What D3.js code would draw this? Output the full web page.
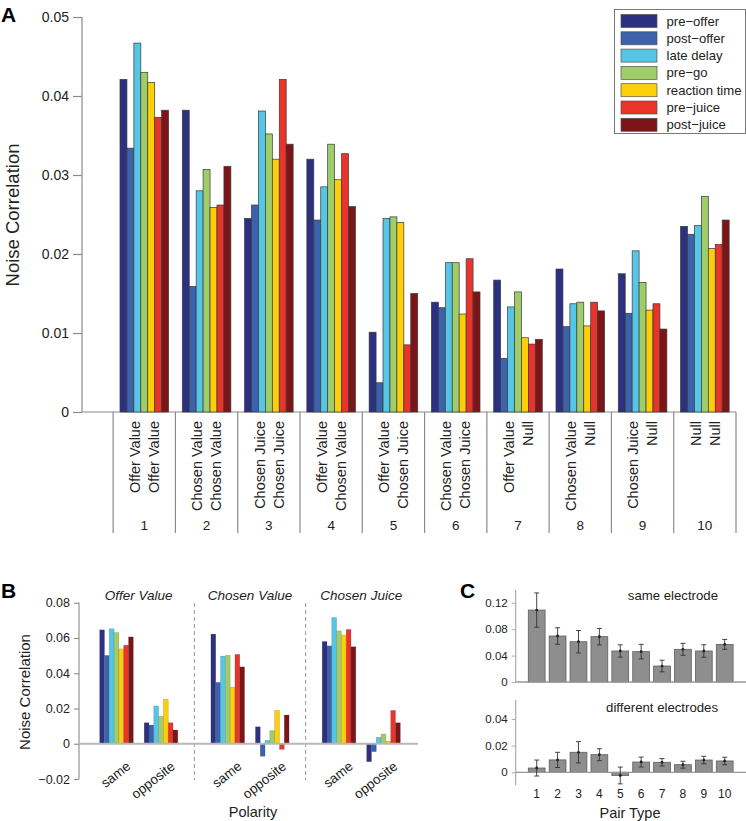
<!DOCTYPE html>
<html><head><meta charset="utf-8">
<script src="https://cdn.jsdelivr.net/npm/d3@7"></script>
<style>body{margin:0;background:#fff}svg{display:block}text{font-family:"Liberation Sans",Arial,Helvetica,sans-serif;fill:#222}</style>
</head><body><svg id="c" width="746" height="821"></svg>
<script>
// ---------- data ----------
const series = ["pre\u2212offer","post\u2212offer","late delay","pre\u2212go","reaction time","pre\u2212juice","post\u2212juice"];
const seriesColors = ["#2b3180","#3b62aa","#55c6e6","#9fcd6a","#fccf0a","#e8342a","#7b1517"];
const pairTypes = [1,2,3,4,5,6,7,8,9,10];
const pairLabel1 = ["Offer Value","Chosen Value","Chosen Juice","Offer Value","Offer Value","Chosen Value","Offer Value","Chosen Value","Chosen Juice","Null"];
const pairLabel2 = ["Offer Value","Chosen Value","Chosen Juice","Chosen Value","Chosen Juice","Chosen Juice","Null","Null","Null","Null"];
// panel A: one row per pair type, values in series order
const noiseA = [
  [0.0421,0.0334,0.0467,0.0430,0.0417,0.0373,0.0382],
  [0.0382,0.0159,0.0280,0.0307,0.0259,0.0262,0.0311],
  [0.0245,0.0262,0.0381,0.0352,0.0320,0.0421,0.0339],
  [0.0320,0.0243,0.0285,0.0339,0.0294,0.0327,0.0260],
  [0.0101,0.0037,0.0245,0.0247,0.0240,0.0085,0.0150],
  [0.0139,0.0132,0.0189,0.0189,0.0124,0.0194,0.0152],
  [0.0167,0.0068,0.0133,0.0152,0.0094,0.0086,0.0092],
  [0.0181,0.0108,0.0137,0.0139,0.0109,0.0139,0.0128],
  [0.0175,0.0125,0.0204,0.0164,0.0129,0.0137,0.0105],
  [0.0235,0.0225,0.0236,0.0273,0.0207,0.0212,0.0243]
];
const ticksA = [0,0.01,0.02,0.03,0.04,0.05];
// panel B
const variablesB = ["Offer Value","Chosen Value","Chosen Juice"];
const polarities = ["same","opposite"];
const noiseBsame = [
  [0.0646,0.0501,0.0652,0.0631,0.0538,0.0559,0.0606],
  [0.0622,0.0348,0.0497,0.0501,0.0320,0.0507,0.0436],
  [0.0580,0.0555,0.0716,0.0640,0.0616,0.0648,0.0550]
];
const noiseBopp = [
  [0.0119,0.0106,0.0214,0.0155,0.0252,0.0119,0.0078],
  [0.0096,-0.0071,0.0019,0.0074,0.0189,-0.0032,0.0163],
  [-0.0102,-0.0045,0.0036,0.0055,0.0015,0.0189,0.0119]
];
const ticksB = [-0.02,0,0.02,0.04,0.06,0.08];
// panel C
const sameElectrode = [0.109,0.0697,0.061,0.0687,0.047,0.046,0.0242,0.0495,0.047,0.057];
const sameElectrodeErr = [0.026,0.0125,0.017,0.0125,0.0093,0.011,0.0088,0.009,0.0095,0.0075];
const diffElectrode = [0.0032,0.0093,0.015,0.0132,-0.0024,0.0077,0.0075,0.0057,0.0092,0.0085];
const diffElectrodeErr = [0.006,0.0057,0.008,0.0045,0.0063,0.0037,0.0028,0.0026,0.0028,0.0028];
const ticksCtop = [0,0.04,0.08,0.12];
const ticksCbot = [0,0.02,0.04];

// ---------- drawing ----------
const svg = d3.select("#c");
const fmt = v => v === 0 ? "0" : d3.format(".2f")(v);
const axisCol = "#8a8a8a";

// ===== Panel A =====
(function(){
  const y = d3.scaleLinear().domain([0,0.05]).range([412,17]);
  const x = d3.scaleLinear().domain([0,10.5]).range([82,736]);
  const inner = d3.scaleBand().domain(d3.range(series.length)).range([-0.39,0.39]);
  const g = svg.append("g");
  g.append("text").attr("x",1).attr("y",22).attr("font-size",21).attr("font-weight","bold").style("fill","#000").text("A");
  // y axis
  const ya = d3.axisLeft(y).tickValues(ticksA).tickFormat(fmt).tickSize(9).tickPadding(4);
  const yg = g.append("g").attr("transform","translate(82,0)").call(ya);
  yg.attr("font-family",null);
  yg.select(".domain").attr("stroke",axisCol).attr("stroke-width",1.2).attr("d","M0,17V412");
  yg.selectAll(".tick line").attr("stroke",axisCol).attr("stroke-width",1.2);
  yg.selectAll(".tick text").attr("font-size",14).attr("fill","#222");
  g.append("text").attr("transform","translate(19,215) rotate(-90)").attr("text-anchor","middle")
    .attr("font-size",18.5).text("Noise Correlation");
  // baseline and separators
  g.append("line").attr("x1",x(0)).attr("x2",x(10.5)).attr("y1",y(0)).attr("y2",y(0)).attr("stroke",axisCol).attr("stroke-width",1.2);
  g.selectAll(".sep").data(d3.range(11)).enter().append("line")
    .attr("x1",d=>x(d+0.5)).attr("x2",d=>x(d+0.5)).attr("y1",y(0)).attr("y2",533)
    .attr("stroke",axisCol).attr("stroke-width",1.2);
  // bars
  pairTypes.forEach((p,pi)=>{
    g.selectAll(null).data(noiseA[pi]).enter().append("rect")
      .attr("x",(d,i)=>x(p+inner(i)))
      .attr("width",x(inner.bandwidth())-x(0))
      .attr("y",d=>y(d)).attr("height",d=>y(0)-y(d))
      .attr("fill",(d,i)=>seriesColors[i]).attr("stroke","#3a3a3a").attr("stroke-width",0.7);
    // labels
    g.append("text").attr("transform",`translate(${x(p)-9.5},421) rotate(-90)`).attr("text-anchor","end")
      .attr("dy","0.36em").attr("font-size",14.5).text(pairLabel1[pi]);
    g.append("text").attr("transform",`translate(${x(p)+9.5},421) rotate(-90)`).attr("text-anchor","end")
      .attr("dy","0.36em").attr("font-size",14.5).text(pairLabel2[pi]);
    g.append("text").attr("x",x(p)).attr("y",530).attr("text-anchor","middle").attr("font-size",13.5).text(p);
  });
  // legend
  const lg = g.append("g");
  lg.append("rect").attr("x",614.5).attr("y",9.5).attr("width",131).attr("height",124).attr("fill","#fff").attr("stroke","#777");
  series.forEach((s,i)=>{
    lg.append("rect").attr("x",621).attr("y",14.5+i*17.3).attr("width",36).attr("height",13)
      .attr("fill",seriesColors[i]).attr("stroke","#555").attr("stroke-width",0.7);
    lg.append("text").attr("x",666.5).attr("y",21+i*17.3).attr("dy","0.35em").attr("font-size",13.1).text(s);
  });
})();

// ===== Panel B =====
(function(){
  const y = d3.scaleLinear().domain([-0.02,0.08]).range([779,602.7]);
  const x = d3.scaleLinear().domain([0,6]).range([116.5,383.5]);
  const inner = d3.scaleBand().domain(d3.range(series.length)).range([-0.378,0.378]);
  const g = svg.append("g");
  g.append("text").attr("x",1).attr("y",598).attr("font-size",21).attr("font-weight","bold").style("fill","#000").text("B");
  const ya = d3.axisLeft(y).tickValues(ticksB).tickFormat(fmt).tickSize(5).tickPadding(4);
  const yg = g.append("g").attr("transform","translate(79,0)").call(ya);
  yg.attr("font-family",null);
  yg.select(".domain").attr("stroke",axisCol).attr("stroke-width",1.1).attr("d","M0,602.7V779");
  yg.selectAll(".tick line").attr("stroke",axisCol).attr("stroke-width",1.1);
  yg.selectAll(".tick text").attr("font-size",12.5).attr("fill","#222");
  g.append("text").attr("transform","translate(30,692) rotate(-90)").attr("text-anchor","middle")
    .attr("font-size",15).text("Noise Correlation");
  // dashed separators
  [1.75,4.25].forEach(p=>{
    g.append("line").attr("x1",x(p)).attr("x2",x(p)).attr("y1",603).attr("y2",780)
      .attr("stroke","#999").attr("stroke-width",1).attr("stroke-dasharray","4,3");
  });
  variablesB.forEach((v,vi)=>{
    const base = vi*2.5;
    g.append("text").attr("x",x(base+0.5)).attr("y",600).attr("text-anchor","middle")
      .attr("font-size",13.5).attr("font-style","italic").text(v);
    [noiseBsame[vi],noiseBopp[vi]].forEach((vals,pi)=>{
      const c = base+pi;
      g.selectAll(null).data(vals).enter().append("rect")
        .attr("x",(d,i)=>x(c+inner(i)))
        .attr("width",x(inner.bandwidth())-x(0))
        .attr("y",d=>y(Math.max(0,d))).attr("height",d=>Math.abs(y(d)-y(0)))
        .attr("fill",(d,i)=>seriesColors[i]).attr("stroke","rgba(60,60,60,0.35)").attr("stroke-width",0.5);
      g.append("text").attr("transform",`translate(${x(c)+15},768) rotate(-38)`).attr("text-anchor","end")
        .attr("font-size",13.5).text(polarities[pi]);
    });
  });
  g.append("line").attr("x1",79).attr("x2",418).attr("y1",y(0)).attr("y2",y(0)).attr("stroke","#b8b8b8").attr("stroke-width",2);
  g.append("text").attr("x",253).attr("y",817).attr("text-anchor","middle").attr("font-size",14.5).text("Polarity");
})();

// ===== Panel C =====
(function(){
  const x = d3.scaleLinear().domain([1,10]).range([536.7,724.7]);
  const bw = 16.8;
  const g = svg.append("g");
  g.append("text").attr("x",460).attr("y",598).attr("font-size",21).attr("font-weight","bold").style("fill","#000").text("C");
  function panel(vals, errs, yScale, ticks, top, label, labelY){
    const ya = d3.axisLeft(yScale).tickValues(ticks).tickFormat(v=>v===0?"0":d3.format(".2f")(v)).tickSize(4).tickPadding(4);
    const yg = g.append("g").attr("transform","translate(515.7,0)").call(ya);
    yg.attr("font-family",null);
    yg.select(".domain").attr("stroke","#aaa").attr("stroke-width",1.2).attr("d",`M0,${top}V${yScale.range()[0]}`);
    yg.selectAll(".tick line").attr("stroke","#aaa");
    yg.selectAll(".tick text").attr("font-size",11.5).attr("fill","#222");
    g.selectAll(null).data(vals).enter().append("rect")
      .attr("x",(d,i)=>x(pairTypes[i])-bw/2).attr("width",bw)
      .attr("y",d=>yScale(Math.max(0,d))).attr("height",d=>Math.abs(yScale(d)-yScale(0)))
      .attr("fill","#8e8e8e").attr("stroke","#5e5e5e").attr("stroke-width",0.8);
    g.append("line").attr("x1",515.7).attr("x2",746).attr("y1",yScale(0)).attr("y2",yScale(0)).attr("stroke","#999").attr("stroke-width",1.3);
    vals.forEach((d,i)=>{
      const cx = x(pairTypes[i]), y1 = yScale(d+errs[i]), y2 = yScale(d-errs[i]);
      g.append("line").attr("x1",cx).attr("x2",cx).attr("y1",y1).attr("y2",y2).attr("stroke","#333").attr("stroke-width",0.9);
      [y1,y2].forEach(yy=>g.append("line").attr("x1",cx-2.5).attr("x2",cx+2.5).attr("y1",yy).attr("y2",yy).attr("stroke","#333").attr("stroke-width",0.9));
      g.append("circle").attr("cx",cx).attr("cy",yScale(d)).attr("r",1.4).attr("fill","#222");
    });
    g.append("text").attr("x",718).attr("y",labelY).attr("text-anchor","end").attr("font-size",13.2).text(label);
  }
  const yTop = d3.scaleLinear().domain([0,0.14]).range([682,589.6]);
  panel(sameElectrode, sameElectrodeErr, yTop, ticksCtop, 590, "same electrode", 600);
  const yBot = d3.scaleLinear().domain([-0.01,0.04]).range([785.6,719]);
  panel(diffElectrode, diffElectrodeErr, yBot, ticksCbot, 700, "different electrodes", 711.7);
  pairTypes.forEach(p=>{
    g.append("text").attr("x",x(p)).attr("y",798).attr("text-anchor","middle").attr("font-size",12).text(p);
  });
  g.append("text").attr("x",630).attr("y",817.5).attr("text-anchor","middle").attr("font-size",14.5).text("Pair Type");
})();
</script></body></html>
